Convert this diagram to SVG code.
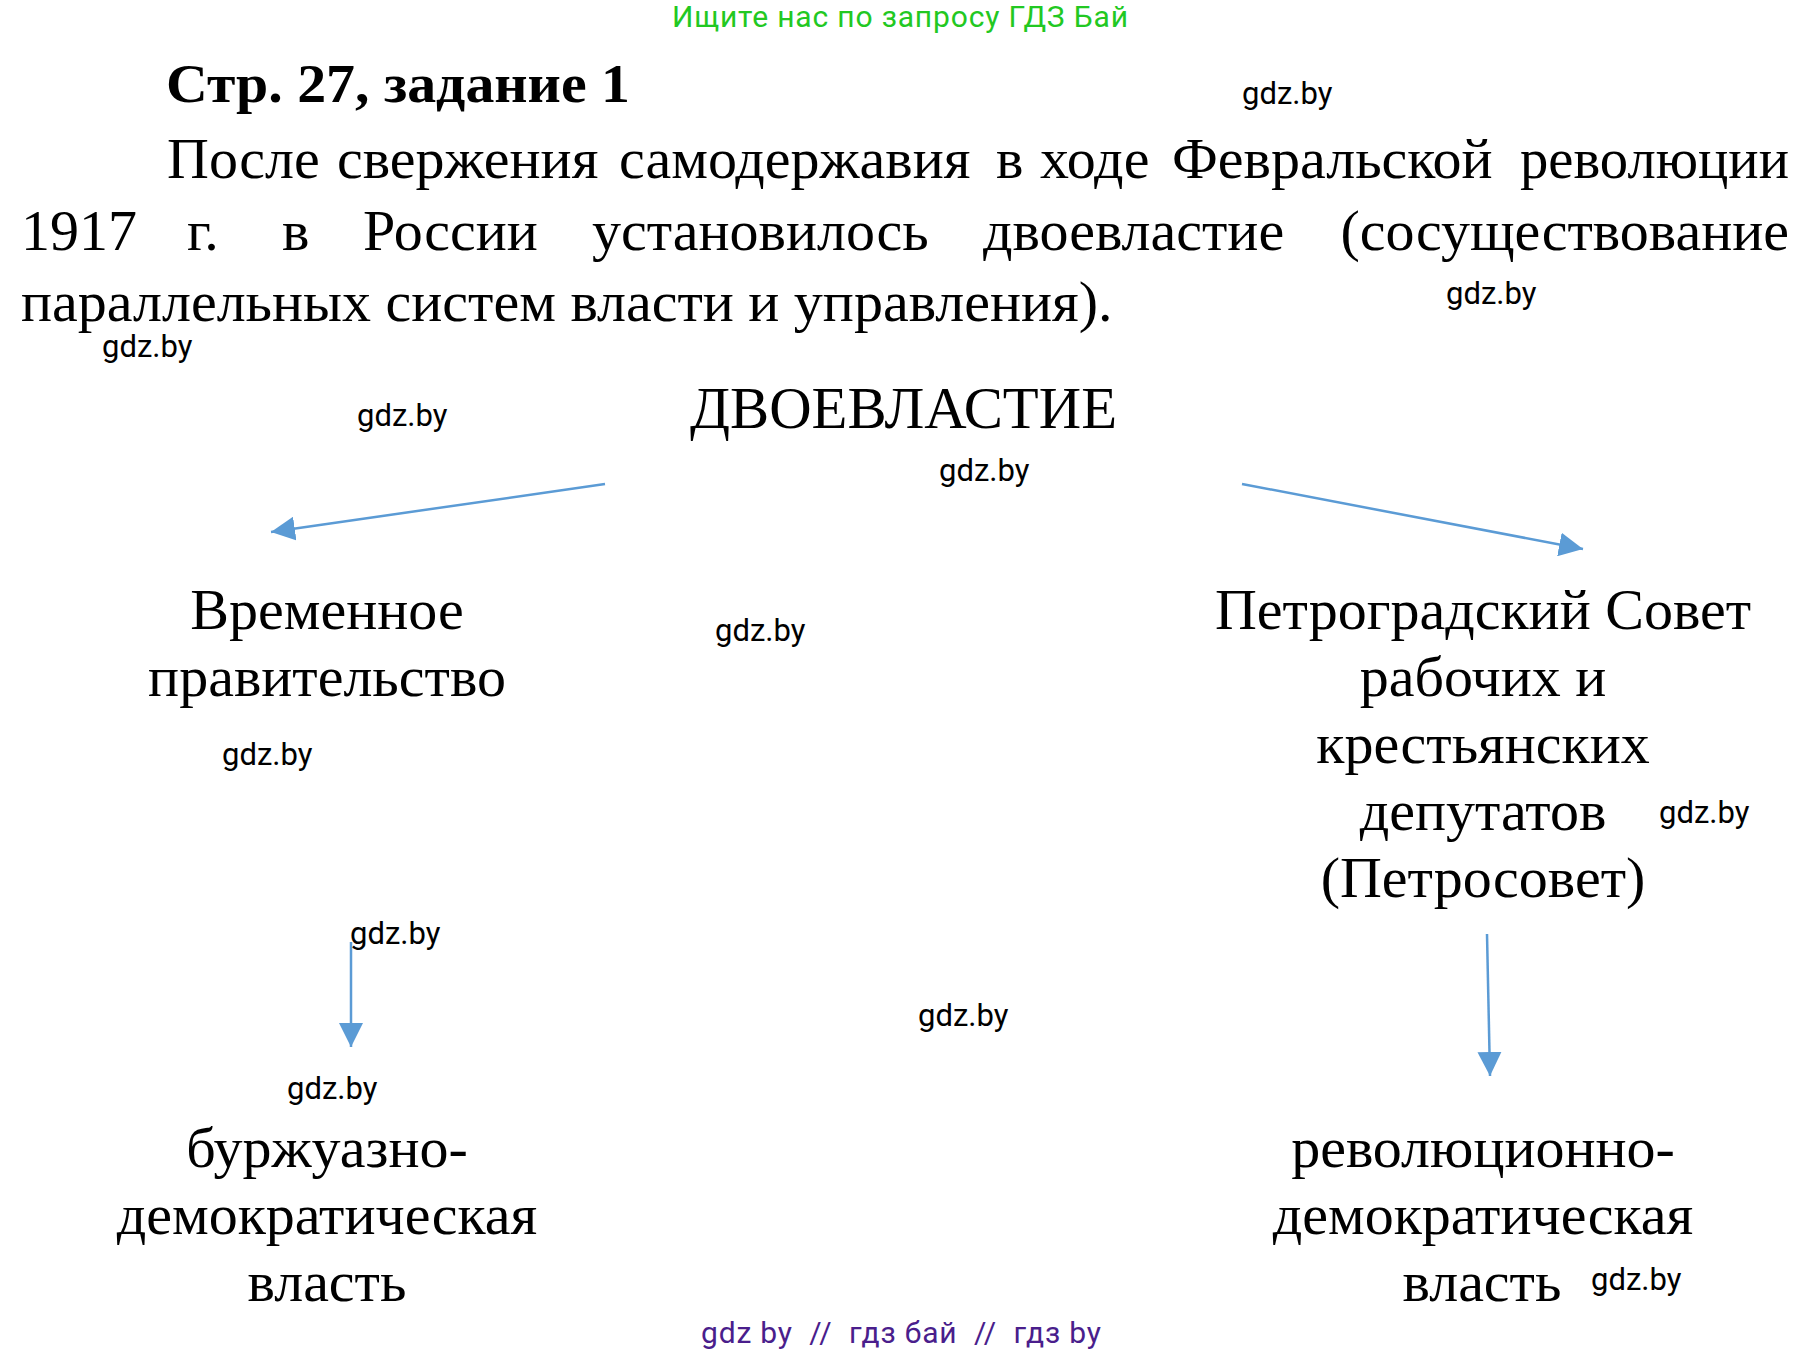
<svg xmlns="http://www.w3.org/2000/svg" width="1803" height="1352" viewBox="0 0 1803 1352">
<style>
.ser{font-family:"Liberation Serif","Times New Roman",serif;font-size:58px;fill:#000}
.node{font-family:"Liberation Serif","Times New Roman",serif;font-size:58px;fill:#000;text-anchor:middle}
.wm{font-family:Roboto,"Liberation Sans",sans-serif;font-size:31px;fill:#000}
.conn{stroke:#5b9bd5;stroke-width:2.5;fill:none;marker-end:url(#ah)}
</style>
<defs>
<marker id="ah" markerUnits="userSpaceOnUse" markerWidth="24" markerHeight="24" refX="24" refY="12" orient="auto">
<path d="M0,0 L24,12 L0,24 Z" fill="#5b9bd5"/>
</marker>
</defs>
<rect width="1803" height="1352" fill="#fff"/>
<text x="900" y="27" style="font-family:Roboto,'Liberation Sans',sans-serif;font-size:30px;fill:#22c822;text-anchor:middle" textLength="456">Ищите нас по запросу ГДЗ Бай</text>
<g id="header">
<text x="166" y="102" style="font-family:'Liberation Serif','Times New Roman',serif;font-size:54px;font-weight:bold" textLength="464" lengthAdjust="spacingAndGlyphs">Стр. 27, задание 1</text>
<text class="ser" y="178"><tspan x="167">После</tspan><tspan x="337">свержения</tspan><tspan x="619">самодержавия</tspan><tspan x="996">в</tspan><tspan x="1040">ходе</tspan><tspan x="1172">Февральской</tspan></text>
<text class="ser" x="1520" y="178" textLength="269" lengthAdjust="spacingAndGlyphs">революции</text>
<text class="ser" y="250"><tspan x="21">1917</tspan><tspan x="187">г.</tspan><tspan x="282">в</tspan><tspan x="363">России</tspan><tspan x="592">установилось</tspan><tspan x="983">двоевластие</tspan></text>
<text class="ser" x="1789" y="250" text-anchor="end">(сосуществование</text>
<text class="ser" x="21" y="321">параллельных систем власти и управления).</text>
</g>
<g id="root">
<text x="690" y="428" style="font-family:'Liberation Serif','Times New Roman',serif;font-size:59px" textLength="427" lengthAdjust="spacingAndGlyphs">ДВОЕВЛАСТИЕ</text>
</g>
<g id="node-vp">
<text class="node" x="327" y="629">Временное</text>
<text class="node" x="327" y="696">правительство</text>
</g>
<g id="node-ps">
<text class="node" x="1483" y="629">Петроградский Совет</text>
<text class="node" x="1483" y="696">рабочих и</text>
<text class="node" x="1483" y="763">крестьянских</text>
<text class="node" x="1483" y="830">депутатов</text>
<text class="node" x="1483" y="897">(Петросовет)</text>
</g>
<g id="node-bd">
<text class="node" x="327" y="1167">буржуазно-</text>
<text class="node" x="327" y="1234">демократическая</text>
<text class="node" x="327" y="1301">власть</text>
</g>
<g id="node-rd">
<text class="node" x="1483" y="1167">революционно-</text>
<text class="node" x="1483" y="1234">демократическая</text>
<text class="node" x="1482" y="1301">власть</text>
</g>
<g id="connectors">
<line class="conn" x1="605" y1="484" x2="271" y2="532"/>
<line class="conn" x1="1242" y1="484" x2="1583" y2="549"/>
<line class="conn" x1="351" y1="942" x2="351" y2="1047"/>
<line class="conn" x1="1487" y1="934" x2="1490" y2="1076"/>
</g>
<g id="watermarks">
<text class="wm" x="1242" y="104">gdz.by</text>
<text class="wm" x="1446" y="304">gdz.by</text>
<text class="wm" x="102" y="357">gdz.by</text>
<text class="wm" x="357" y="426">gdz.by</text>
<text class="wm" x="939" y="481">gdz.by</text>
<text class="wm" x="715" y="641">gdz.by</text>
<text class="wm" x="222" y="765">gdz.by</text>
<text class="wm" x="1659" y="823">gdz.by</text>
<text class="wm" x="350" y="944">gdz.by</text>
<text class="wm" x="918" y="1026">gdz.by</text>
<text class="wm" x="287" y="1099">gdz.by</text>
<text class="wm" x="1591" y="1290">gdz.by</text>
</g>
<text x="901" y="1343" xml:space="preserve" style="font-family:Roboto,'Liberation Sans',sans-serif;font-size:30px;fill:#4a1e8c;text-anchor:middle;white-space:pre" textLength="400">gdz by  //  гдз бай  //  гдз by</text>
</svg>
